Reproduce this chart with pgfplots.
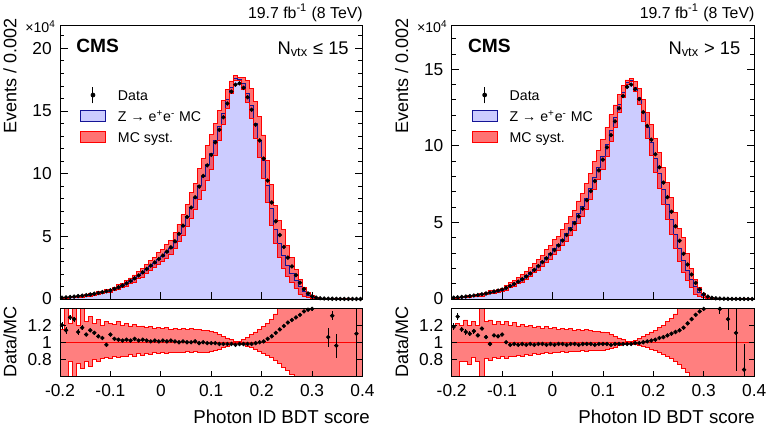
\documentclass[border=0pt]{standalone}
\usepackage{pgfplots}
\pgfplotsset{compat=1.18}
\usepackage{pgfplotstable}
\usepgfplotslibrary{fillbetween}
\usepackage{fontspec}
\setmainfont{Liberation Sans}

\definecolor{mcfill}{RGB}{204,204,255}
\definecolor{mcline}{RGB}{20,20,150}

% x = left bin edge, d = data, mc = MC, r = data/MC, e = ratio error, u/l = rel. syst. up/down
\pgfplotstableread{
x d mc r e u l
-0.200 0.11 0.092 1.20 0.04 0.15 0.40
-0.192 0.13 0.114 1.14 0.04 0.40 0.40
-0.184 0.16 0.124 1.29 0.03 0.22 0.22
-0.176 0.19 0.150 1.27 0.03 0.40 0.40
-0.168 0.23 0.205 1.12 0.03 0.20 0.25
-0.160 0.27 0.231 1.17 0.03 0.40 0.30
-0.152 0.31 0.284 1.09 0.02 0.24 0.22
-0.144 0.36 0.316 1.14 0.02 0.30 0.28
-0.136 0.42 0.378 1.11 0.02 0.22 0.20
-0.128 0.48 0.449 1.07 0.02 0.27 0.22
-0.120 0.55 0.524 1.05 0.02 0.20 0.19
-0.112 0.62 0.639 0.97 0.02 0.24 0.18
-0.104 0.70 0.642 1.09 0.02 0.22 0.19
-0.096 0.81 0.779 1.04 0.01 0.21 0.17
-0.088 0.94 0.913 1.03 0.01 0.24 0.18
-0.080 1.08 1.059 1.02 0.01 0.20 0.16
-0.072 1.25 1.214 1.03 0.01 0.22 0.17
-0.064 1.44 1.412 1.02 0.01 0.19 0.14
-0.056 1.65 1.587 1.04 0.01 0.21 0.16
-0.048 1.88 1.843 1.02 0.01 0.18 0.13
-0.040 2.13 2.068 1.03 0.01 0.19 0.15
-0.032 2.40 2.353 1.02 0.01 0.17 0.13
-0.024 2.66 2.634 1.01 0.01 0.18 0.14
-0.016 2.92 2.863 1.02 0.01 0.16 0.12
-0.008 3.19 3.158 1.01 0.01 0.17 0.13
0.000 3.47 3.402 1.02 0.01 0.16 0.12
0.008 3.78 3.743 1.01 0.01 0.17 0.13
0.016 4.12 4.039 1.02 0.01 0.15 0.12
0.024 4.60 4.554 1.01 0.01 0.16 0.12
0.032 5.20 5.200 1.00 0.01 0.15 0.12
0.040 5.85 5.792 1.01 0.01 0.16 0.12
0.048 6.55 6.550 1.00 0.01 0.15 0.11
0.056 7.30 7.300 1.00 0.01 0.16 0.12
0.064 8.12 8.040 1.01 0.01 0.15 0.11
0.072 8.97 9.060 0.99 0.01 0.15 0.12
0.080 9.82 9.820 1.00 0.01 0.14 0.12
0.088 10.66 10.77 0.99 0.01 0.14 0.12
0.096 11.50 11.62 0.99 0.01 0.13 0.11
0.104 12.50 12.63 0.99 0.01 0.11 0.095
0.112 13.50 13.78 0.98 0.01 0.09 0.08
0.120 14.50 14.80 0.98 0.01 0.07 0.06
0.128 15.60 15.92 0.98 0.01 0.05 0.045
0.136 16.55 16.89 0.98 0.01 0.03 0.03
0.144 17.10 17.63 0.97 0.01 0.012 0.012
0.152 17.20 17.55 0.98 0.01 0.008 0.008
0.160 16.85 17.19 0.98 0.01 0.03 0.025
0.168 16.10 16.43 0.98 0.01 0.06 0.045
0.176 15.10 15.41 0.98 0.01 0.09 0.065
0.184 13.90 14.04 0.99 0.01 0.12 0.085
0.192 12.65 12.65 1.00 0.01 0.15 0.11
0.200 11.20 11.09 1.01 0.01 0.18 0.13
0.208 9.45 9.09 1.04 0.01 0.22 0.155
0.216 7.70 7.20 1.07 0.01 0.27 0.18
0.224 6.20 5.59 1.11 0.01 0.33 0.21
0.232 5.10 4.43 1.15 0.01 0.42 0.25
0.240 4.15 3.49 1.19 0.01 0.60 0.29
0.248 3.30 2.68 1.23 0.01 0.60 0.33
0.256 2.60 2.06 1.26 0.01 0.60 0.37
0.264 1.90 1.47 1.29 0.01 0.60 0.42
0.272 1.30 0.985 1.32 0.01 0.60 0.60
0.280 0.80 0.588 1.36 0.01 0.60 0.60
0.288 0.44 0.319 1.38 0.02 0.60 0.60
0.296 0.22 0.158 1.39 0.02 0.60 0.60
0.304 0.11 0.070 nan 0 0.60 0.60
0.312 0.06 0.035 nan 0 0.60 0.60
0.320 0.04 0.020 nan 0 0.60 0.60
0.328 0.03 0.028 1.06 0.11 0.60 0.60
0.336 0.02 0.015 1.31 0.05 0.60 0.60
0.344 0.015 0.016 0.96 0.14 0.60 0.60
0.352 0.01 0.008 nan 0 0.60 0.60
0.360 0.008 0.006 nan 0 0.60 0.60
0.368 0.006 0.005 nan 0 0.60 0.60
0.376 0.005 0.004 nan 0 0.60 0.60
0.384 0.004 0.004 1.10 1.00 0.60 0.60
0.392 0.003 0.003 nan 0 0.60 0.60
0.400 nan 0.003 nan 0 0.60 0.60
}\lowpu

\pgfplotstableread{
x d mc r e u l
-0.200 0.09 0.076 1.18 0.04 0.20 0.40
-0.192 0.11 0.085 1.30 0.04 0.22 0.45
-0.184 0.13 0.113 1.15 0.03 0.20 0.22
-0.176 0.16 0.143 1.12 0.03 0.26 0.22
-0.168 0.19 0.173 1.10 0.03 0.20 0.26
-0.160 0.23 0.204 1.13 0.03 0.24 0.18
-0.152 0.26 0.241 1.08 0.02 0.20 0.22
-0.144 0.31 0.267 1.16 0.02 0.45 0.40
-0.136 0.36 0.340 1.06 0.02 0.24 0.19
-0.128 0.42 0.429 0.98 0.02 0.26 0.21
-0.120 0.49 0.454 1.08 0.02 0.21 0.18
-0.112 0.55 0.514 1.07 0.02 0.24 0.19
-0.104 0.62 0.569 1.09 0.02 0.21 0.17
-0.096 0.73 0.730 1.00 0.01 0.24 0.19
-0.088 0.85 0.876 0.97 0.01 0.20 0.17
-0.080 0.98 1.000 0.98 0.01 0.23 0.16
-0.072 1.13 1.165 0.97 0.01 0.19 0.15
-0.064 1.29 1.316 0.98 0.01 0.21 0.16
-0.056 1.47 1.515 0.97 0.01 0.18 0.14
-0.048 1.67 1.704 0.98 0.01 0.20 0.15
-0.040 1.90 1.959 0.97 0.01 0.17 0.13
-0.032 2.15 2.194 0.98 0.01 0.19 0.14
-0.024 2.41 2.459 0.98 0.01 0.16 0.13
-0.016 2.66 2.742 0.97 0.01 0.18 0.12
-0.008 2.93 2.990 0.98 0.01 0.16 0.13
0.000 3.20 3.299 0.97 0.01 0.17 0.12
0.008 3.50 3.571 0.98 0.01 0.15 0.12
0.016 3.82 3.898 0.98 0.01 0.16 0.11
0.024 4.18 4.309 0.97 0.01 0.15 0.12
0.032 4.55 4.643 0.98 0.01 0.16 0.11
0.040 4.95 5.051 0.98 0.01 0.14 0.11
0.048 5.40 5.567 0.97 0.01 0.15 0.11
0.056 5.90 6.020 0.98 0.01 0.14 0.10
0.064 6.45 6.582 0.98 0.01 0.15 0.11
0.072 7.05 7.194 0.98 0.01 0.14 0.10
0.080 7.70 7.938 0.97 0.01 0.13 0.10
0.088 8.40 8.571 0.98 0.01 0.13 0.09
0.096 9.10 9.286 0.98 0.01 0.12 0.09
0.104 9.90 10.10 0.98 0.01 0.11 0.08
0.112 10.70 11.03 0.97 0.01 0.09 0.07
0.120 11.60 11.84 0.98 0.01 0.07 0.055
0.128 12.45 12.70 0.98 0.01 0.05 0.04
0.136 13.25 13.52 0.98 0.01 0.03 0.025
0.144 13.85 14.13 0.98 0.01 0.012 0.01
0.152 14.00 14.29 0.98 0.01 0.008 0.008
0.160 13.70 13.84 0.99 0.01 0.025 0.02
0.168 13.05 13.18 0.99 0.01 0.045 0.035
0.176 12.20 12.20 1.00 0.01 0.07 0.05
0.184 11.30 11.19 1.01 0.01 0.09 0.065
0.192 10.40 10.20 1.02 0.01 0.12 0.08
0.200 9.45 9.175 1.03 0.01 0.14 0.10
0.208 8.60 8.190 1.05 0.01 0.17 0.12
0.216 7.60 7.170 1.06 0.01 0.20 0.14
0.224 6.65 6.157 1.08 0.01 0.24 0.16
0.232 5.70 5.182 1.10 0.01 0.28 0.19
0.240 4.75 4.241 1.12 0.01 0.33 0.22
0.248 3.80 3.333 1.14 0.01 0.39 0.26
0.256 2.95 2.521 1.17 0.01 0.60 0.30
0.264 2.25 1.844 1.22 0.01 0.60 0.35
0.272 1.60 1.260 1.27 0.01 0.60 0.40
0.280 1.05 0.795 1.32 0.01 0.60 0.60
0.288 0.62 0.456 1.36 0.02 0.60 0.60
0.296 0.32 0.230 1.39 0.02 0.60 0.60
0.304 0.16 0.100 nan 0 0.60 0.60
0.312 0.08 0.050 nan 0 0.60 0.60
0.320 0.045 0.028 nan 0 0.60 0.60
0.328 0.03 0.022 1.39 0.06 0.60 0.60
0.336 0.022 0.015 nan 0 0.60 0.60
0.344 0.016 0.013 1.27 0.13 0.60 0.60
0.352 0.012 0.010 nan 0 0.60 0.60
0.360 0.009 0.008 1.11 0.45 0.60 0.60
0.368 0.007 0.006 nan 0 0.60 0.60
0.376 0.005 0.007 0.68 0.30 0.60 0.60
0.384 0.004 0.004 nan 0 0.60 0.60
0.392 0.003 0.003 nan 0 0.60 0.60
0.400 nan 0.003 nan 0 0.60 0.60
}\highpu

\pgfplotsset{
  cmsbase/.style={
    scale only axis, width=181.5pt, anchor=south west,
    xmin=-0.2, xmax=0.4, clip=true, axis on top,
    axis line style={line width=0.6pt},
    tick style={black, line width=0.5pt},
    tick align=inside, xtick pos=left, ytick pos=both,
    xtick={-0.2,-0.1,0,0.1,0.2,0.3,0.4},
    tick label style={font=\fontsize{10.4}{12}\selectfont},
    yticklabel style={anchor=east, inner sep=0pt},
    xticklabel style={anchor=north, inner sep=0pt},
    yticklabel shift=4.8pt, xticklabel shift=4.5pt,
    /pgf/number format/assume math mode=true,
  },
  mainax/.style={cmsbase, height=164.4pt, ymin=0, xticklabels={},
    major tick length=4.5pt, minor tick length=2.4pt,
    legend cell align=left,
    legend style={at={(0.0661,0.7828)}, anchor=north west, draw=none, fill=none,
      inner sep=0pt, outer sep=0pt, column sep=7.2pt, row sep=0pt,
      font=\fontsize{8.5}{10}\selectfont,
      nodes={inner sep=0pt, text height=7.6pt, text depth=1.5pt}},
  },
  ratioax/.style={cmsbase, height=41.1pt, ymin=0.6, ymax=1.4,
    major tick length=3.4pt,
    ytick={0.8,1,1.2}, yticklabels={0.8,1,1.2},
    xticklabels={-0.2,-0.1,0,0.1,0.2,0.3,0.4}},
  datapt/.style={only marks, mark=*, mark size=1.1pt, black},
}

\newcommand{\cmslegend}{%
  \addlegendimage{legend image code/.code={%
    \draw[black, line width=0.6pt] (7.5pt,-5pt) -- (7.5pt,5pt);
    \fill[black] (7.5pt,0pt) circle (1.2pt);
    \path[draw=none, fill=none] (0pt,-6.3pt) rectangle (15pt,6.3pt);}}
  \addlegendentry{Data}
  \addlegendimage{legend image code/.code={%
    \draw[draw=mcline, fill=mcfill, line width=0.6pt] (0pt,-3.3pt) rectangle (15pt,3.3pt);
    \path[draw=none, fill=none] (0pt,-6.3pt) rectangle (15pt,6.3pt);}}
  \addlegendentry{Z → e\textsuperscript{+}e\textsuperscript{-} MC}
  \addlegendimage{legend image code/.code={%
    \draw[draw=red, fill=red, fill opacity=0.55, line width=0.6pt] (0pt,-3.3pt) rectangle (15pt,3.3pt);
    \path[draw=none, fill=none] (0pt,-6.3pt) rectangle (15pt,6.3pt);}}
  \addlegendentry{MC syst.}
}

\begin{document}
\begin{tikzpicture}

% ---- left: N_vtx <= 15
\begin{axis}[mainax, at={(36pt,78.6pt)}, ymax=21.86,
  ytick={0,5,10,15,20}, yticklabels={0,5,10,15,20},
  minor ytick={1,2,3,4,6,7,8,9,11,12,13,14,16,17,18,19,21}]
  \cmslegend
  \addplot[draw=none, name path=baseA, forget plot] coordinates {(-0.2,0) (0.4,0)};
  \addplot[const plot, mcline, line width=0.5pt, name path=mcA, forget plot] table[x=x, y=mc] {\lowpu};
  \addplot[fill=mcfill, draw=none, forget plot] fill between[of=mcA and baseA];
  \addplot[const plot, red, line width=0.5pt, name path=suA, forget plot] table[x=x, y expr=\thisrow{mc}*(1+\thisrow{u})] {\lowpu};
  \addplot[const plot, red, line width=0.5pt, name path=slA, forget plot] table[x=x, y expr=\thisrow{mc}*(1-\thisrow{l})] {\lowpu};
  \addplot[fill=red, fill opacity=0.55, draw=none, forget plot] fill between[of=suA and slA];
  \addplot[datapt, forget plot] table[x expr=\thisrow{x}+0.004, y=d] {\lowpu};
\end{axis}

\begin{axis}[ratioax, at={(36pt,32.1pt)}]
  \addplot[const plot, red, line width=0.5pt, name path=ruA, forget plot] table[x=x, y expr=1+\thisrow{u}] {\lowpu};
  \addplot[const plot, red, line width=0.5pt, name path=rlA, forget plot] table[x=x, y expr=1-\thisrow{l}] {\lowpu};
  \addplot[fill=red, fill opacity=0.5, draw=none, forget plot] fill between[of=ruA and rlA];
  \addplot[red, line width=0.6pt, forget plot] coordinates {(-0.2,1) (0.4,1)};
  \addplot[datapt, forget plot, error bars/.cd, y dir=both, y explicit, error mark=none,
    error bar style={black, line width=0.5pt}]
    table[x expr=\thisrow{x}+0.004, y=r, y error=e] {\lowpu};
\end{axis}

% ---- right: N_vtx > 15
\begin{axis}[mainax, at={(271pt,78.6pt)}, ymax=17.89,
  ytick={0,5,10,15}, yticklabels={0,5,10,15},
  minor ytick={1,2,3,4,6,7,8,9,11,12,13,14,16,17}]
  \cmslegend
  \addplot[draw=none, name path=baseB, forget plot] coordinates {(-0.2,0) (0.4,0)};
  \addplot[const plot, mcline, line width=0.5pt, name path=mcB, forget plot] table[x=x, y=mc] {\highpu};
  \addplot[fill=mcfill, draw=none, forget plot] fill between[of=mcB and baseB];
  \addplot[const plot, red, line width=0.5pt, name path=suB, forget plot] table[x=x, y expr=\thisrow{mc}*(1+\thisrow{u})] {\highpu};
  \addplot[const plot, red, line width=0.5pt, name path=slB, forget plot] table[x=x, y expr=\thisrow{mc}*(1-\thisrow{l})] {\highpu};
  \addplot[fill=red, fill opacity=0.55, draw=none, forget plot] fill between[of=suB and slB];
  \addplot[datapt, forget plot] table[x expr=\thisrow{x}+0.004, y=d] {\highpu};
\end{axis}

\begin{axis}[ratioax, at={(271pt,32.1pt)}]
  \addplot[const plot, red, line width=0.5pt, name path=ruB, forget plot] table[x=x, y expr=1+\thisrow{u}] {\highpu};
  \addplot[const plot, red, line width=0.5pt, name path=rlB, forget plot] table[x=x, y expr=1-\thisrow{l}] {\highpu};
  \addplot[fill=red, fill opacity=0.5, draw=none, forget plot] fill between[of=ruB and rlB];
  \addplot[red, line width=0.6pt, forget plot] coordinates {(-0.2,1) (0.4,1)};
  \addplot[datapt, forget plot, error bars/.cd, y dir=both, y explicit, error mark=none,
    error bar style={black, line width=0.5pt}]
    table[x expr=\thisrow{x}+0.004, y=r, y error=e] {\highpu};
\end{axis}

% ---- texts
\foreach \dx/\nv/\xl in {0pt/{≤ 15}/222pt, 235pt/{> 15}/218pt} {
  \begin{scope}[xshift=\dx]
  \node[anchor=west, inner sep=0pt, font=\fontsize{8.5}{10}\selectfont] at (15pt,242pt) {×10\textsuperscript{4}};
  \node[anchor=base east, inner sep=0pt, font=\fontsize{9.5}{11}\selectfont] at (217.8pt,247pt) {19.7 fb\textsuperscript{-1} (8 TeV)};
  \node[anchor=base west, inner sep=0pt, font=\fontsize{11.5}{13}\selectfont\bfseries] at (45.6pt,226.4pt) {CMS};
  \node[anchor=base east, inner sep=0pt, font=\fontsize{11}{13}\selectfont] at (209.4pt,225.6pt) {N\textsubscript{vtx} \nv};
  \node[rotate=90, anchor=base east, inner sep=0pt, font=\fontsize{10.8}{13}\selectfont] at (9.8pt,247.2pt) {Events / 0.002};
  \node[rotate=90, anchor=base, inner sep=0pt, font=\fontsize{10.8}{13}\selectfont] at (9.8pt,52.8pt) {Data/MC};
  \node[anchor=base east, inner sep=0pt, font=\fontsize{11.2}{13}\selectfont] at (\xl,4pt) {Photon ID BDT score};
  \end{scope}
}
\pgfresetboundingbox
\useasboundingbox (0,0) rectangle (460.2pt,258pt);
\end{tikzpicture}
\end{document}
